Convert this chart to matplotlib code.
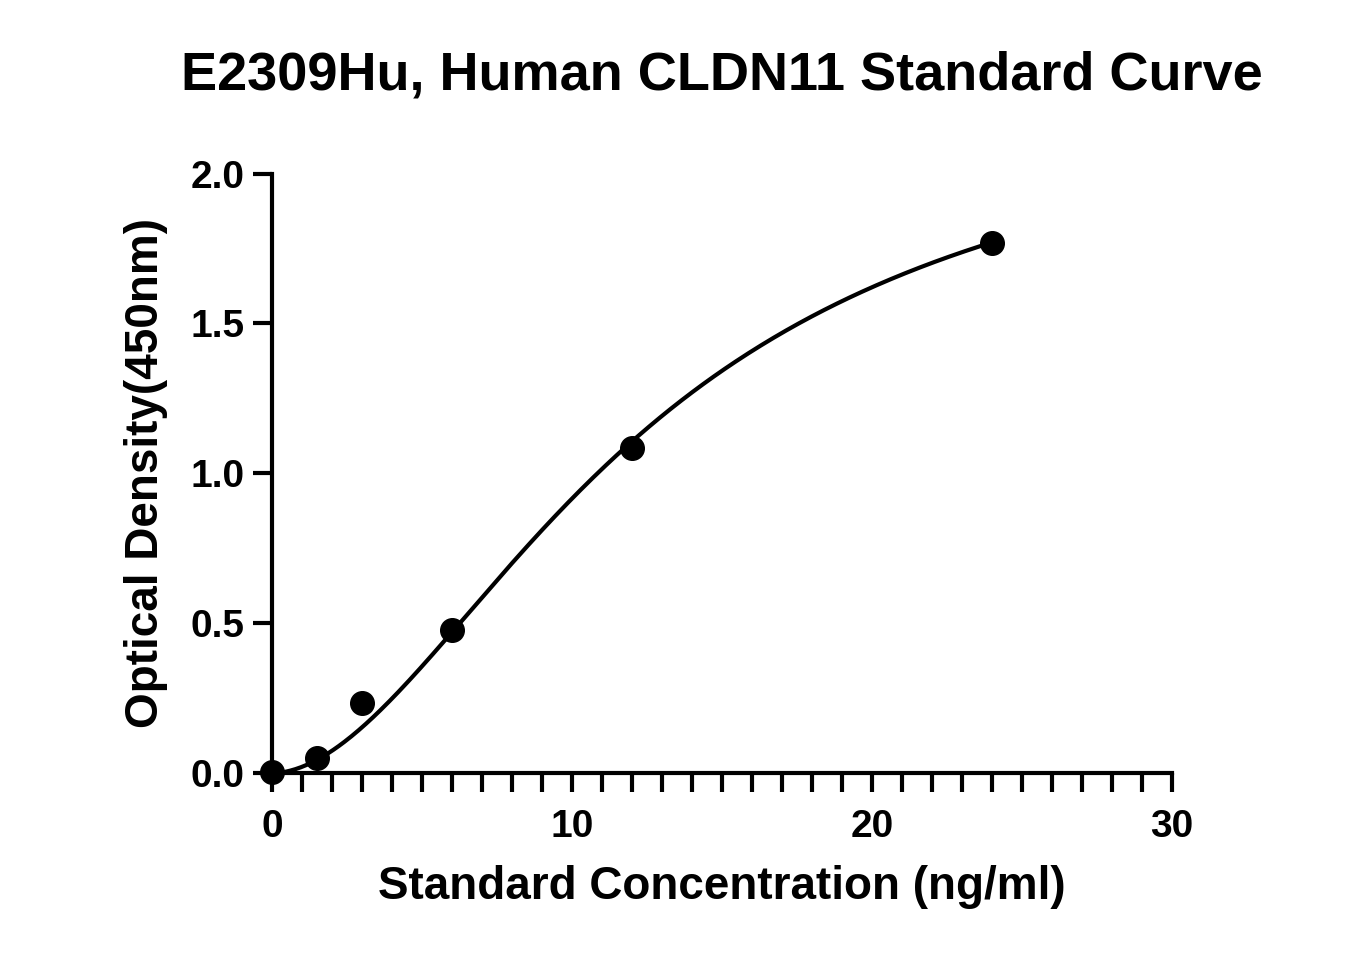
import matplotlib
matplotlib.use("Agg")
import matplotlib.pyplot as plt
import matplotlib.ticker as mticker
import numpy as np

plt.rcParams["font.family"] = ["Liberation Sans", "DejaVu Sans"]
plt.rcParams["font.weight"] = "bold"

conc = [0, 1.5, 3, 6, 12, 24]
od = [0.003, 0.05, 0.234, 0.477, 1.085, 1.77]

# 4PL fit parameters (bottom, top, ec50, hill)
a_fit, d_fit, c_fit, b_fit = 0.0, 2.3, 12.5, 1.85

fig = plt.figure(figsize=(13.47, 9.75), dpi=100)
ax = fig.add_axes([0.202, 0.207, 0.668, 0.615])

xs = np.linspace(0, 24, 400)
ys = d_fit + (a_fit - d_fit) / (1 + (xs / c_fit) ** b_fit)
ax.plot(xs, ys, color="black", linewidth=3, clip_on=False)
ax.plot(conc, od, "o", color="black", markersize=17, clip_on=False, zorder=3)

ax.set_xlim(0, 30)
ax.set_ylim(0, 2.0)
ax.xaxis.set_major_locator(mticker.MultipleLocator(10))
ax.xaxis.set_minor_locator(mticker.MultipleLocator(1))
ax.yaxis.set_major_locator(mticker.MultipleLocator(0.5))
ax.yaxis.set_major_formatter(mticker.FormatStrFormatter("%.1f"))
ax.tick_params(which="both", direction="out", width=3, length=14, labelsize=28, pad=6)
ax.tick_params(axis="x", pad=12)
for lab in ax.get_xticklabels() + ax.get_yticklabels():
    lab.set_fontweight("bold")

ax.spines[["top", "right"]].set_visible(False)
ax.spines[["left", "bottom"]].set_linewidth(3)

ax.set_xlabel("Standard Concentration (ng/ml)", fontsize=33, fontweight="bold", labelpad=14)
ax.set_ylabel("Optical Density(450nm)", fontsize=33, fontweight="bold", labelpad=16)
fig.text(0.536, 0.923, "E2309Hu, Human CLDN11 Standard Curve", ha="center", va="center",
         fontsize=39, fontweight="bold")

fig.savefig("out.png", dpi=100)
